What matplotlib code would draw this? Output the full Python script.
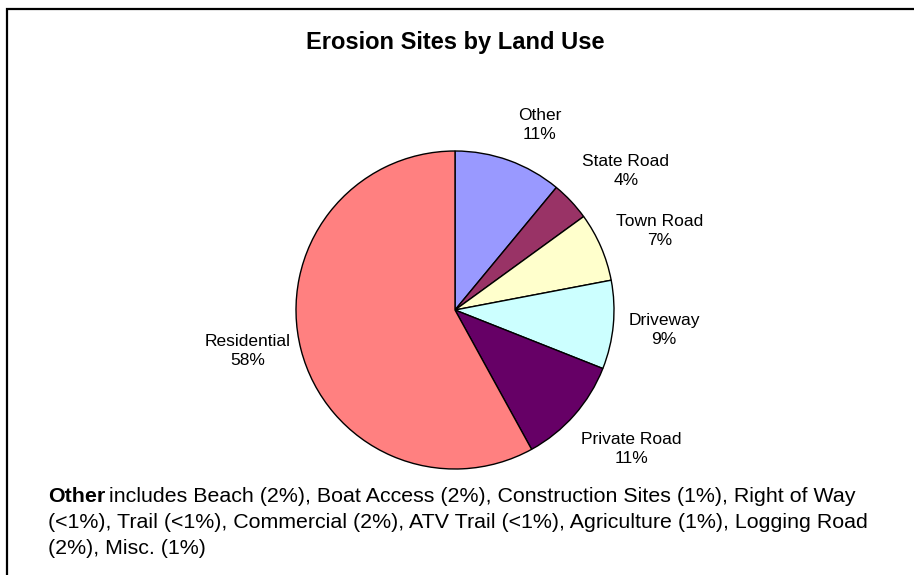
import matplotlib
matplotlib.use("Agg")
import matplotlib.pyplot as plt
from matplotlib.patches import Rectangle

plt.rcParams['font.family'] = ['Liberation Sans', 'DejaVu Sans']

categories = ["Other", "State Road", "Town Road", "Driveway", "Private Road", "Residential"]
values = [11, 4, 7, 9, 11, 58]
colors = ["#9999FF", "#993366", "#FFFFCC", "#CCFFFF", "#660066", "#FF8080"]
label_text = ["Other\n11%", "State Road\n4%", "Town Road\n7%", "Driveway\n9%",
              "Private Road\n11%", "Residential\n58%"]
# label positions in pixels (x, y from top)
label_pos = [(540, 125), (626, 171), (660, 231), (664, 330), (631, 449), (248, 351)]
title = "Erosion Sites by Land Use"
note_lines = [
    "includes Beach (2%), Boat Access (2%), Construction Sites (1%), Right of Way",
    "(<1%), Trail (<1%), Commercial (2%), ATV Trail (<1%), Agriculture (1%), Logging Road",
    "(2%), Misc. (1%)",
]

W, H = 914, 575
fig = plt.figure(figsize=(W / 100, H / 100), dpi=100)
fig.patch.set_facecolor("white")

# frame
fig.add_artist(Rectangle((7 / W, -0.05), 1.1, (H - 9) / H + 0.05, transform=fig.transFigure,
                         fill=False, edgecolor="black", linewidth=1.6))

cx, cy, r = 455, 310, 159
ax = fig.add_axes([(cx - r) / W, 1 - (cy + r) / H, 2 * r / W, 2 * r / H])
ax.pie(values, colors=colors, startangle=90, counterclock=False,
       wedgeprops=dict(edgecolor="black", linewidth=1.0))
ax.set_aspect("equal")
ax.set_xlim(-1, 1)
ax.set_ylim(-1, 1)
ax.axis("off")

for (x, y), t in zip(label_pos, label_text):
    fig.text(x / W, 1 - y / H, t, ha="center", va="center", fontsize=12.5,
             linespacing=1.3)

fig.text(455 / W, 1 - 43 / H, title, ha="center", va="center", fontsize=17,
         fontweight="bold")

fs = 15.4
t0 = fig.text(48 / W, 1 - 497 / H, "Other", ha="left", va="center", fontsize=fs,
              fontweight="bold")
fig.canvas.draw()
bb = t0.get_window_extent()
fig.text((bb.x1 + 4) / W, 1 - 497 / H, note_lines[0], ha="left", va="center", fontsize=fs)
fig.text(48 / W, 1 - 523 / H, note_lines[1], ha="left", va="center", fontsize=fs)
fig.text(48 / W, 1 - 548 / H, note_lines[2], ha="left", va="center", fontsize=fs)

fig.savefig("out.png", dpi=100, facecolor="white")
